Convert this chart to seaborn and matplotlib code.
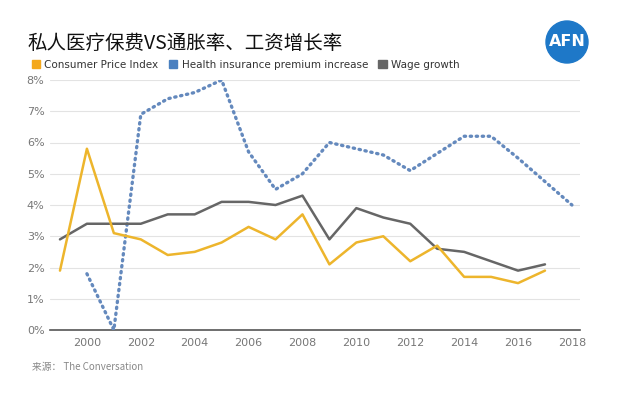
import matplotlib
matplotlib.use("Agg")
import matplotlib.pyplot as plt
import matplotlib.patches as mpatches
import seaborn as sns
import pandas as pd

sns.set_theme(style="white")
plt.rcParams['font.family'] = ['Noto Sans CJK SC', 'DejaVu Sans']

years_cpi = list(range(1999, 2018))
cpi = [1.9, 5.8, 3.1, 2.9, 2.4, 2.5, 2.8, 3.3, 2.9, 3.7, 2.1, 2.8, 3.0, 2.2, 2.7, 1.7, 1.7, 1.5, 1.9]
years_wage = list(range(1999, 2018))
wage = [2.9, 3.4, 3.4, 3.4, 3.7, 3.7, 4.1, 4.1, 4.0, 4.3, 2.9, 3.9, 3.6, 3.4, 2.6, 2.5, 2.2, 1.9, 2.1]
years_health = list(range(2000, 2019))
health = [1.8, 0.0, 6.9, 7.4, 7.6, 8.0, 5.7, 4.5, 5.0, 6.0, 5.8, 5.6, 5.1, 5.65, 6.2, 6.2, 5.5, 4.75, 4.0]

series_names = ["Consumer Price Index", "Health insurance premium increase", "Wage growth"]
x_ticks = list(range(2000, 2019, 2))
y_ticks = list(range(0, 9))
title = "私人医疗保费VS通胀率、工资增长率"
source = "来源： The Conversation"

c_cpi = "#EDB52C"
c_health = "#6489BD"
c_wage = "#666666"

fig = plt.figure(figsize=(6.4, 3.99), dpi=100)
ax = fig.add_axes([50/640, 1-330/399, 530/640, 250/399])

df_cpi = pd.DataFrame({"year": years_cpi, "v": cpi})
df_wage = pd.DataFrame({"year": years_wage, "v": wage})
df_h = pd.DataFrame({"year": years_health, "v": health})

sns.lineplot(data=df_h, x="year", y="v", ax=ax, color=c_health, linewidth=2.4,
             linestyle=(0, (0.4, 1.4)), zorder=3)
sns.lineplot(data=df_wage, x="year", y="v", ax=ax, color=c_wage, linewidth=1.8, zorder=4)
sns.lineplot(data=df_cpi, x="year", y="v", ax=ax, color=c_cpi, linewidth=1.8, zorder=5)
ax.lines[0].set_dash_capstyle("round")

ax.set_xlim(1998.63, 2018.3)
ax.set_ylim(0, 8)
ax.set_xticks(x_ticks)
ax.set_xticklabels([str(x) for x in x_ticks])
ax.set_yticks(y_ticks)
ax.set_yticklabels([f"{y}%" for y in y_ticks])
ax.set_xlabel("")
ax.set_ylabel("")
for s in ["top", "right", "left"]:
    ax.spines[s].set_visible(False)
ax.spines["bottom"].set_color("#555555")
ax.spines["bottom"].set_linewidth(1.2)
ax.grid(axis="y", color="#e3e3e3", linewidth=0.8)
ax.set_axisbelow(True)
ax.tick_params(axis="both", length=0, labelsize=8, labelcolor="#777777", pad=4)
ax.tick_params(axis="x", pad=6)
for t in ax.get_xticklabels() + ax.get_yticklabels():
    t.set_family(["DejaVu Sans"])

fig.text(28/640, 1-43/399, title, fontsize=14, fontweight="medium", color="#111111",
         va="center", ha="left")

handles = [mpatches.Patch(color="#F4A81C"), mpatches.Patch(color="#4A80C0"), mpatches.Patch(color="#666666")]
leg = fig.legend(handles, series_names, loc="center left", bbox_to_anchor=(32/640, 1-65/399),
                 ncol=3, frameon=False, fontsize=7.5, handlelength=0.8, handleheight=0.8,
                 handletextpad=0.4, columnspacing=1.0, borderaxespad=0, borderpad=0)
for t in leg.get_texts():
    t.set_color("#333333")
    t.set_family(["DejaVu Sans"])

fig.text(32/640, 1-367/399, source, fontsize=7, color="#888888", va="center", ha="left")

# AFN logo
logo = mpatches.Ellipse((567/640, 1-42/399), 42/640, 42/399, transform=fig.transFigure,
                        color="#1E78C8", zorder=10)
fig.patches.append(logo)
fig.text(567/640, 1-42/399, "AFN", fontsize=11.5, color="white", fontweight="bold",
         ha="center", va="center", zorder=11, family=["DejaVu Sans"])

fig.savefig("out.png", dpi=100)
